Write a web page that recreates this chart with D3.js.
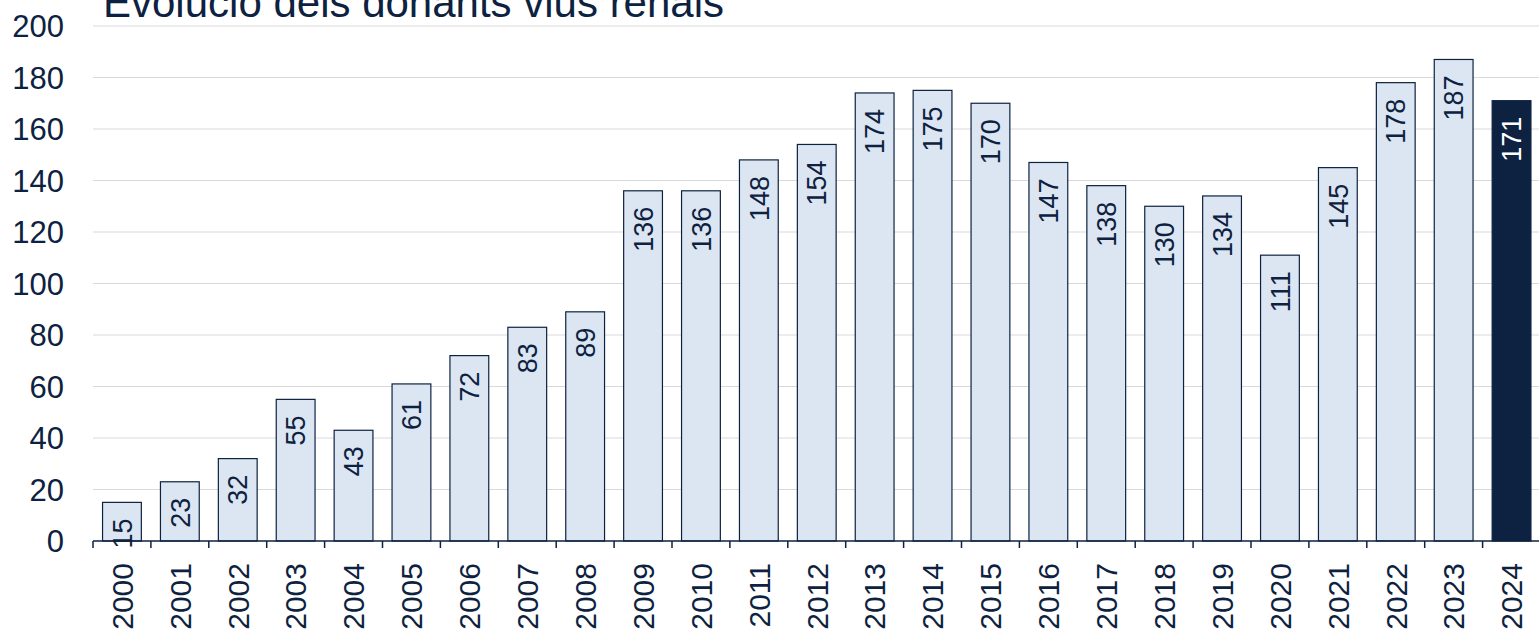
<!DOCTYPE html>
<html>
<head>
<meta charset="utf-8">
<script src="https://cdn.jsdelivr.net/npm/d3@7"></script>
<style>
  body { margin: 0; background: #fff; overflow: hidden; }
  svg { display: block; font-family: "Liberation Sans", Arial, sans-serif; }
</style>
</head>
<body>
<script>
// data
var years = ["2000","2001","2002","2003","2004","2005","2006","2007","2008","2009","2010","2011","2012",
             "2013","2014","2015","2016","2017","2018","2019","2020","2021","2022","2023","2024"];
var donors = [15,23,32,55,43,61,72,83,89,136,136,148,154,174,175,170,147,138,130,134,111,145,178,187,171];
var yTicks = [0,20,40,60,80,100,120,140,160,180,200];
var title = "Evolució dels donants vius renals";

var W = 1539, H = 633;
var navy = "#0d2240";
var step = 57.9;

var svg = d3.select("body").append("svg")
    .attr("width", W).attr("height", H);

var x = d3.scaleBand().domain(years).range([93, 93 + 25 * step]).paddingInner(0.33).paddingOuter(0.165);
var y = d3.scaleLinear().domain([0, 200]).range([541, 26]);

// gridlines
svg.append("g").selectAll("line").data(yTicks.filter(function(d){ return d > 0; }))
  .enter().append("line")
    .attr("x1", 93).attr("x2", W)
    .attr("y1", function(d){ return y(d); }).attr("y2", function(d){ return y(d); })
    .attr("stroke", "#d9d9d9").attr("stroke-width", 1);

// y labels
svg.append("g").selectAll("text").data(yTicks).enter().append("text")
    .attr("x", 64).attr("y", function(d){ return y(d); })
    .attr("dy", "0.36em")
    .attr("text-anchor", "end")
    .attr("font-size", 31)
    .attr("fill", navy)
    .text(function(d){ return d; });

// bars
svg.append("g").selectAll("rect").data(donors).enter().append("rect")
    .attr("x", function(d, i){ return x(years[i]); })
    .attr("y", function(d){ return y(d); })
    .attr("width", x.bandwidth())
    .attr("height", function(d){ return y(0) - y(d); })
    .attr("fill", function(d, i){ return i == years.length - 1 ? navy : "#dce6f2"; })
    .attr("stroke", navy).attr("stroke-width", 1.2);

// value labels
svg.append("g").selectAll("text").data(donors).enter().append("text")
    .attr("transform", function(d, i){
      return "translate(" + (x(years[i]) + x.bandwidth() / 2) + "," + (y(d) + 16) + ") rotate(-90)";
    })
    .attr("dy", "0.36em")
    .attr("text-anchor", "end")
    .attr("font-size", 27)
    .attr("fill", function(d, i){ return i == years.length - 1 ? "#fff" : navy; })
    .text(function(d){ return d; });

// x axis
var xa = svg.append("g");
xa.append("line").attr("x1", 93).attr("x2", W).attr("y1", y(0)).attr("y2", y(0))
  .attr("stroke", navy).attr("stroke-width", 1.5);
xa.selectAll("line.tick").data(d3.range(years.length)).enter().append("line")
    .attr("class", "tick")
    .attr("x1", function(i){ return 93 + i * step; }).attr("x2", function(i){ return 93 + i * step; })
    .attr("y1", y(0)).attr("y2", y(0) + 7)
    .attr("stroke", navy).attr("stroke-width", 1.5);
xa.selectAll("text").data(years).enter().append("text")
    .attr("transform", function(d){
      return "translate(" + (x(d) + x.bandwidth() / 2) + ",563) rotate(-90)";
    })
    .attr("dy", "0.36em")
    .attr("text-anchor", "end")
    .attr("font-size", 30)
    .attr("fill", navy)
    .text(function(d){ return d; });

// title (top is cut off in the original too)
svg.append("text")
    .attr("x", 103).attr("y", 17)
    .attr("font-size", 42)
    .attr("fill", navy)
    .text(title);
</script>
</body>
</html>
